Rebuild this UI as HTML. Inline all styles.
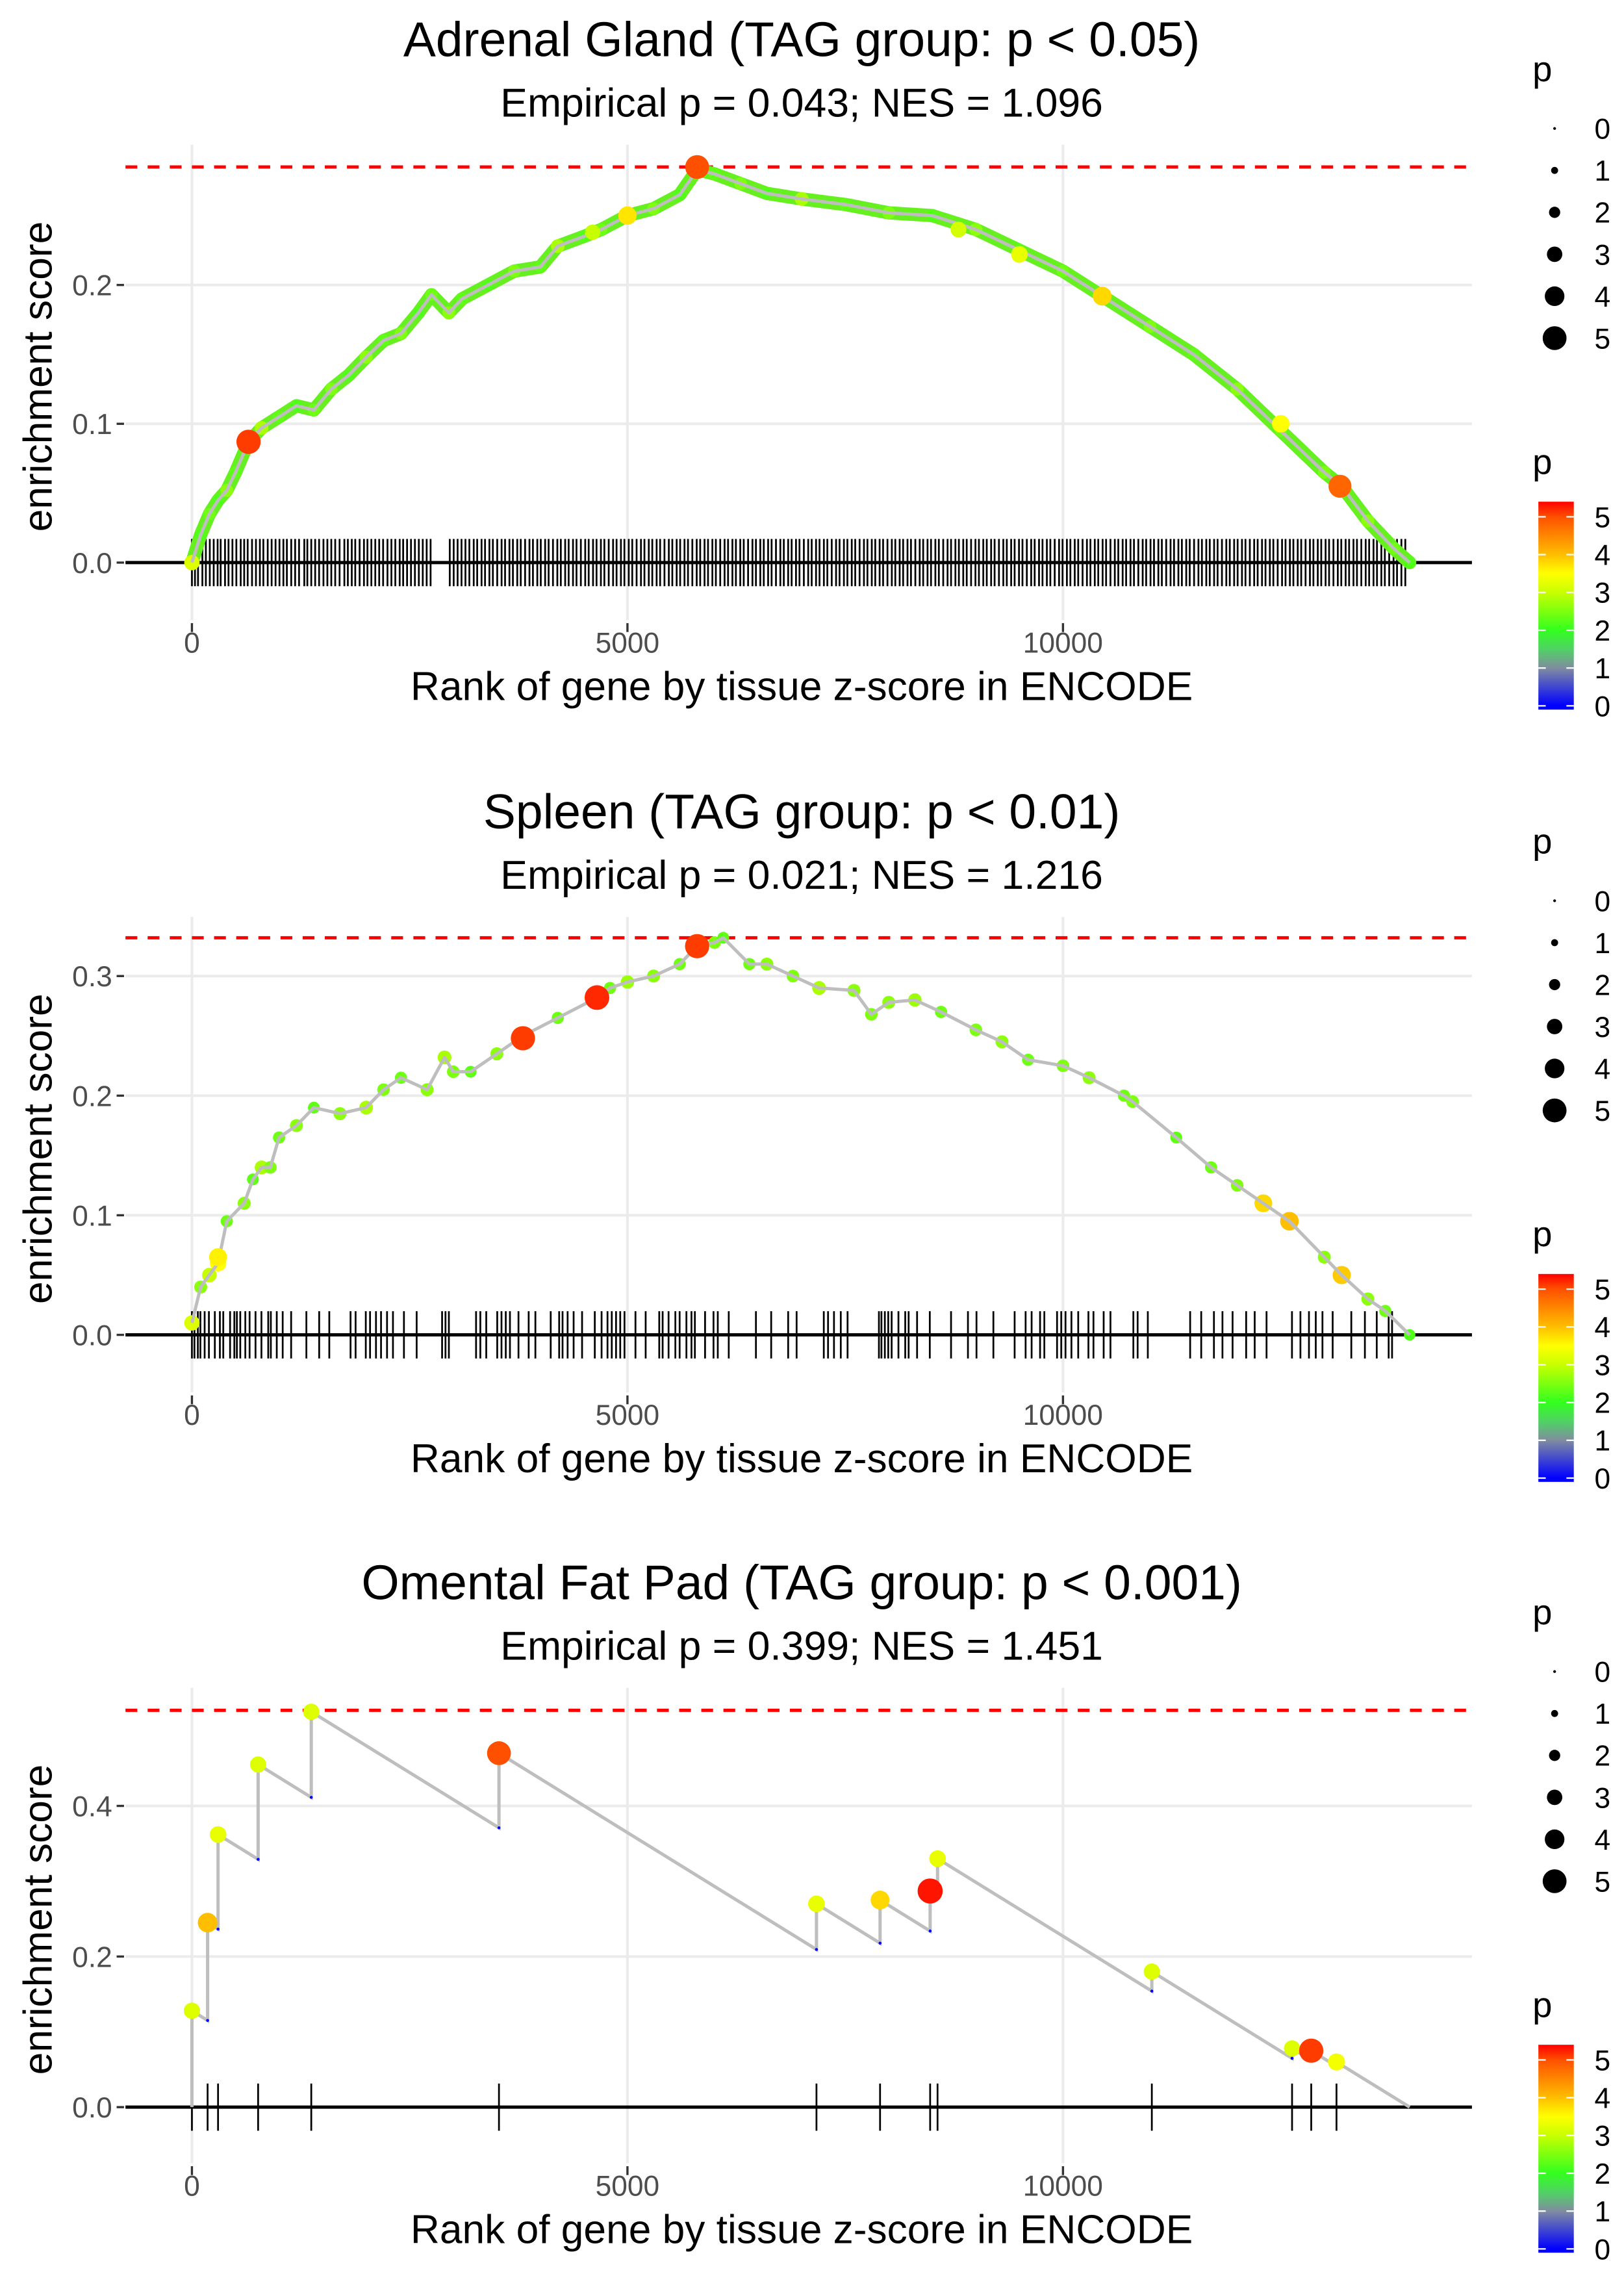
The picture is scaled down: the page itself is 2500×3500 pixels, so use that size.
<!DOCTYPE html>
<html><head><meta charset="utf-8"><style>
html,body{margin:0;padding:0;background:#fff;}
svg{display:block;}
text{font-family:"Liberation Sans",Arial,sans-serif;}
</style></head><body>
<svg id="chart" width="2500" height="3500" viewBox="0 0 1100 1540" xmlns="http://www.w3.org/2000/svg"></svg>
<script>
// ---------- Panel 1: Adrenal Gland ----------
const p1Title = "Adrenal Gland (TAG group: p < 0.05)";
const p1Sub = "Empirical p = 0.043; NES = 1.096";
const p1YTicks = [0, 0.1, 0.2];
const p1MaxES = 0.285;
const p1CurveRank = [0,100,200,300,400,500,650,800,1000,1200,1400,1600,1800,2000,2200,2400,2600,2750,2950,3100,3400,3700,4000,4200,4500,4700,5000,5300,5600,5800,6000,6300,6600,7000,7500,8000,8500,9000,9500,10000,10500,11000,11500,12000,12500,13000,13200,13500,13800,13980];
const p1CurveES = [0,0.02,0.035,0.045,0.052,0.065,0.087,0.097,0.105,0.113,0.11,0.125,0.135,0.148,0.16,0.165,0.18,0.193,0.18,0.19,0.2,0.21,0.213,0.228,0.235,0.24,0.25,0.255,0.265,0.283,0.28,0.273,0.266,0.262,0.258,0.252,0.25,0.24,0.225,0.21,0.19,0.17,0.15,0.125,0.095,0.065,0.055,0.03,0.01,0];
const p1CurveP = [3.2,2.2,2.4,2.2,2.6,2.3,2.5,2.8,2.3,2.2,2.4,2.5,2.2,2.6,2.3,2.5,2.2,2.4,2.6,2.3,2.2,2.5,2.3,2.8,2.2,2.4,2.3,2.5,2.2,2.4,2.3,2.5,2.2,2.8,2.3,2.5,2.2,2.6,2.3,2.4,2.2,2.5,2.3,2.6,2.4,2.5,2.3,2.6,2.4,2.2];
const p1HlRank = [650,5800,13180,5000,10450,9500,12500,8800,4600];
const p1HlES = [0.087,0.285,0.055,0.25,0.192,0.222,0.1,0.24,0.238];
const p1HlP = [5.1,5.0,4.8,3.7,3.8,3.3,3.5,3.1,3.0];
const p1Hits = [0,35,70,120,160,205,250,295,330,380,420,465,510,560,600,640,690,735,780,820,870,915,960,1005,1050,1090,1140,1185,1230,1290,1325,1370,1415,1460,1510,1555,1600,1645,1695,1750,1790,1835,1875,1925,1975,2015,2060,2105,2150,2195,2245,2290,2335,2385,2425,2470,2515,2560,2605,2650,2695,2740,
2960,3005,3050,3095,3140,3185,3235,3275,3325,3365,3415,3455,3505,3555,3595,3645,3685,3735,3775,3825,3875,3915,3965,4005,4055,4095,4145,4195,4235,4285,4325,4375,4415,4465,4515,4555,4605,4645,4695,4735,4785,4835,4875,4925,4965,5015,5055,5105,5155,5195,5245,5285,5335,5375,5425,5475,5515,5565,5605,5655,5695,5745,5795,5835,5885,5925,5975,6015,6065,6115,6155,6205,6245,6295,6335,6385,6435,6475,6525,6565,6615,6655,6705,6755,6795,6845,6885,6935,6975,7025,7075,7115,7165,7205,7255,7295,7345,7395,7435,7485,7525,7575,7615,7665,7715,7755,7805,7845,7895,7935,7985,8035,8075,8125,8165,8215,8255,8305,8355,8395,8445,8485,8535,8575,8625,8675,8715,8765,8805,8855,8895,8945,8995,9035,9085,9125,9175,9215,9265,9315,9355,9405,9445,9495,9535,9585,9635,9675,9725,9765,9815,9855,9905,9955,9995,10045,10085,10135,10175,10225,10275,10315,10365,10405,10455,10495,10545,10595,10635,10685,10725,10775,10815,10865,10915,10955,11005,11045,11095,11135,11185,11235,11275,11325,11365,11415,11455,11505,11555,11595,11645,11685,11735,11775,11825,11875,11915,11965,12005,12055,12095,12145,12195,12235,12285,12325,12375,12415,12465,12515,12555,12605,12645,12695,12735,12785,12835,12875,12925,12965,13015,13055,13105,13155,13195,13245,13285,13335,13375,13425,13475,13515,13565,13605,13655,13695,13745,13795,13835,13885,13930];

// ---------- Panel 2: Spleen ----------
const p2Title = "Spleen (TAG group: p < 0.01)";
const p2Sub = "Empirical p = 0.021; NES = 1.216";
const p2YTicks = [0, 0.1, 0.2, 0.3];
const p2MaxES = 0.332;
const p2CurveRank = [0,100,200,300,400,600,700,800,900,1000,1200,1400,1700,2000,2200,2400,2700,2900,3000,3200,3500,3800,4200,4600,4800,5000,5300,5600,5800,6000,6100,6400,6600,6900,7200,7600,7800,8000,8300,8600,9000,9300,9600,10000,10300,10700,10800,11300,11700,12000,12300,12600,13000,13200,13500,13700,13980];
const p2CurveES = [0.01,0.04,0.05,0.06,0.095,0.11,0.13,0.14,0.14,0.165,0.175,0.19,0.185,0.19,0.205,0.215,0.205,0.232,0.22,0.22,0.235,0.25,0.265,0.28,0.29,0.295,0.3,0.31,0.325,0.328,0.332,0.31,0.31,0.3,0.29,0.288,0.268,0.278,0.28,0.27,0.255,0.245,0.23,0.225,0.215,0.2,0.195,0.165,0.14,0.125,0.11,0.095,0.065,0.05,0.03,0.02,0];
const p2CurveP = [3.2,2.6,3.0,3.5,2.4,2.6,2.3,2.8,2.5,2.4,2.6,2.3,2.6,2.8,2.5,2.4,2.6,2.8,2.5,2.3,2.6,2.5,2.4,2.6,2.4,2.7,2.6,2.4,2.6,2.5,2.3,2.4,2.6,2.5,2.8,2.6,2.5,2.6,2.7,2.4,2.5,2.6,2.4,2.5,2.6,2.4,2.5,2.3,2.4,2.5,3.8,4.0,2.6,3.9,2.6,2.4,2.2];
const p2HlRank = [3800,4650,5800,300];
const p2HlES = [0.248,0.282,0.325,0.065];
const p2HlP = [5.1,5.2,5.1,3.6];
const p2Hits = [0,29,68,97,146,195,263,321,360,438,487,516,555,613,662,730,798,876,906,974,1042,1139,1314,1461,1577,1821,1879,1996,2045,2113,2171,2240,2308,2434,2580,2872,2911,2950,3262,3311,3379,3505,3554,3603,3651,3749,3866,3943,4119,4216,4255,4313,4382,4479,4625,4703,4771,4820,4869,4917,4966,5092,5209,5365,5404,5472,5550,5599,5677,5735,5774,5891,5988,6037,6163,6475,6650,6845,6942,7254,7303,7371,7449,7527,7887,7916,7955,7994,8033,8111,8189,8228,8325,8471,8715,8909,9007,9201,9445,9571,9640,9737,9786,9932,9980,10029,10097,10175,10292,10350,10467,10545,10808,10857,10974,11460,11587,11733,11831,11947,12103,12201,12337,12629,12726,12824,12902,12979,13096,13310,13466,13602,13739,13778];

// ---------- Panel 3: Omental Fat Pad ----------
const p3Title = "Omental Fat Pad (TAG group: p < 0.001)";
const p3Sub = "Empirical p = 0.399; NES = 1.451";
const p3YTicks = [0, 0.2, 0.4];
const p3MaxES = 0.527;
const p3Hits = [0,180,300,760,1370,3525,7170,7900,8475,8560,11020,12630,12850,13140];
const p3ESAfter = [0.128,0.245,0.362,0.455,0.525,0.47,0.27,0.275,0.287,0.33,0.18,0.078,0.075,0.06];
const p3P = [3.2,4.0,3.3,3.2,3.2,5.0,3.3,3.8,5.3,3.3,3.2,3.2,5.1,3.4];
const p3Slope = 7.15e-5;

const N = 13980;
const legendSizes = [0,1,2,3,4,5];
const colorTicks = [0,1,2,3,4,5];

const svg = document.getElementById('chart');
const NS = 'http://www.w3.org/2000/svg';
function mk(tag, attrs, parent){
  const e = document.createElementNS(NS, tag);
  for (const k in attrs) e.setAttribute(k, attrs[k]);
  (parent||svg).appendChild(e);
  return e;
}
const stops = [[0,[0,0,255]],[1,[128,140,160]],[1.5,[80,210,100]],[2,[50,255,30]],[3,[200,255,0]],[3.5,[255,255,0]],[4,[255,190,0]],[5,[255,80,0]],[5.4,[255,0,0]]];
function pcol(p){
  if (p<=stops[0][0]) return 'rgb(0,0,255)';
  for (let i=1;i<stops.length;i++){
    if (p<=stops[i][0]){
      const a=stops[i-1], b=stops[i], t=(p-a[0])/(b[0]-a[0]);
      const c=a[1].map((v,j)=>Math.round(v+(b[1][j]-v)*t));
      return 'rgb('+c.join(',')+')';
    }
  }
  return 'rgb(255,0,0)';
}
function rad(p){ return 1+1.5*p; }
const xs = r => 130 + r*0.059;
const X0 = 85, X1 = 997;

function panel(off, cfg){
  const g = mk('g', {transform:'translate(0,'+off+')'});
  
  
  const ys = v => cfg.y0 - v*cfg.k;
  const t = mk('text',{x:543,y:38,'text-anchor':'middle','font-size':33,fill:'#000'},g);
  t.textContent = cfg.title;
  
  
  const s = mk('text',{x:543,y:79,'text-anchor':'middle','font-size':27.5,fill:'#000'},g);
  s.textContent = cfg.sub;
  
  
  [0,5000,10000].forEach(r=>{
    const l = mk('line',{x1:xs(r),x2:xs(r),y1:98,y2:420,stroke:'#ebebeb','stroke-width':1.8},g);
    
    
  });
  cfg.yticks.forEach(v=>{
    const l = mk('line',{x1:X0,x2:X1,y1:ys(v),y2:ys(v),stroke:'#ebebeb','stroke-width':1.8},g);
    
    
    const tk = mk('line',{x1:79,x2:84,y1:ys(v),y2:ys(v),stroke:'#333','stroke-width':1.5},g);
    
    
    const tl = mk('text',{x:76,y:ys(v)+7,'text-anchor':'end','font-size':19.5,fill:'#4d4d4d'},g);
    tl.textContent = v.toFixed(1);
    
    
  });
  [0,5000,10000].forEach(r=>{
    const tk = mk('line',{x1:xs(r),x2:xs(r),y1:422,y2:428,stroke:'#333','stroke-width':1.5},g);
    
    
    const tl = mk('text',{x:xs(r),y:442,'text-anchor':'middle','font-size':19.5,fill:'#4d4d4d'},g);
    tl.textContent = String(r);
    
    
  });
  const xt = mk('text',{x:543,y:474,'text-anchor':'middle','font-size':27.4,fill:'#000'},g);
  xt.textContent = 'Rank of gene by tissue z-score in ENCODE';
  
  
  const yt = mk('text',{x:0,y:0,'text-anchor':'middle','font-size':27.4,fill:'#000',transform:'translate(35,255) rotate(-90)'},g);
  yt.textContent = 'enrichment score';
  
  
  const md = mk('line',{x1:X0,x2:X1,y1:ys(cfg.maxES),y2:ys(cfg.maxES),stroke:'#ff0000','stroke-width':2.2,'stroke-dasharray':'8,7'},g);
  
  
  cfg.hits.forEach(r=>{
    const l = mk('line',{x1:xs(r),x2:xs(r),y1:ys(0)-16,y2:ys(0)+16,stroke:'#000','stroke-width':cfg.rugW},g);
    
    
  });
  const bl = mk('line',{x1:X0,x2:X1,y1:ys(0),y2:ys(0),stroke:'#000','stroke-width':2.2},g);
  
  
  cfg.draw(g, ys);
  const lp = mk('text',{x:1038,y:55,'font-size':24,fill:'#000'},g);
  lp.textContent = 'p';
  
  
  legendSizes.forEach((v,i)=>{
    const y = 87 + i*28.4;
    const c = mk('circle',{cx:1053,cy:y,r:rad(v)*0.95,fill:'#000'},g);
    
    
    const tl = mk('text',{x:1080,y:y+7,'font-size':19.5,fill:'#000'},g);
    tl.textContent = String(v);
    
    
  });
  const cp = mk('text',{x:1038,y:321,'font-size':24,fill:'#000'},g);
  cp.textContent = 'p';
  
  
  const gid = 'grad'+off;
  const defs = mk('defs',{},g);
  const lg = mk('linearGradient',{id:gid,x1:0,y1:1,x2:0,y2:0},defs);
  stops.forEach(st=>{
    mk('stop',{offset:((st[0]+0.1)/5.5),'stop-color':'rgb('+st[1].join(',')+')'},lg);
  });
  const cby = v => 478 - v*25.6;
  const cb = mk('rect',{x:1042,y:cby(5.4),width:24,height:cby(-0.1)-cby(5.4),fill:'url(#'+gid+')'},g);
  
  
  colorTicks.forEach(v=>{
    mk('line',{x1:1042,x2:1047,y1:cby(v),y2:cby(v),stroke:'#fff','stroke-width':1},g);
    mk('line',{x1:1061,x2:1066,y1:cby(v),y2:cby(v),stroke:'#fff','stroke-width':1},g);
    const tl = mk('text',{x:1080,y:cby(v)+7,'font-size':19.5,fill:'#000'},g);
    tl.textContent = String(v);
    
    
  });
}

function curveDraw(rank, es, pv, hr, he, hp, cloud){
  return function(g, ys){
    const pts = rank.map((r,i)=>xs(r)+','+ys(es[i])).join(' ');
    if (cloud){
      const c = mk('polyline',{points:pts,fill:'none',stroke:'#66f020','stroke-width':9,'stroke-linejoin':'round','stroke-linecap':'round'},g);
      
      
    }
    rank.forEach((r,i)=>{
      const c = mk('circle',{cx:xs(r),cy:ys(es[i]),r:rad(pv[i])*0.9,fill:pcol(pv[i])},g);
      
      
    });
    const l = mk('polyline',{points:pts,fill:'none',stroke:'#bebebe','stroke-width':2.2,'stroke-linejoin':'round'},g);
    
    
    hr.forEach((r,i)=>{
      const c = mk('circle',{cx:xs(r),cy:ys(he[i]),r:rad(hp[i])*0.95,fill:pcol(hp[i])},g);
      
      
    });
  };
}

panel(0, {name:'panel-adrenal-gland', title:p1Title, sub:p1Sub, y0:381, k:940, yticks:p1YTicks, maxES:p1MaxES, hits:p1Hits, rugW:1.2,
  draw: curveDraw(p1CurveRank,p1CurveES,p1CurveP,p1HlRank,p1HlES,p1HlP,true)});
panel(523, {name:'panel-spleen', title:p2Title, sub:p2Sub, y0:381, k:810, yticks:p2YTicks, maxES:p2MaxES, hits:p2Hits, rugW:1.2,
  draw: curveDraw(p2CurveRank,p2CurveES,p2CurveP,p2HlRank,p2HlES,p2HlP,false)});
panel(1045, {name:'panel-omental-fat-pad', title:p3Title, sub:p3Sub, y0:382, k:510, yticks:p3YTicks, maxES:p3MaxES, hits:p3Hits, rugW:1.2,
  draw: function(g, ys){
    const path = [];
    const before = [];
    let prevR = 0, prevE = 0;
    p3Hits.forEach((r,i)=>{
      const b = i===0 ? 0 : Math.max(0, prevE - p3Slope*(r-prevR));
      before.push(b);
      path.push(xs(r)+','+ys(b));
      path.push(xs(r)+','+ys(p3ESAfter[i]));
      prevR = r; prevE = p3ESAfter[i];
    });
    path.push(xs(N)+','+ys(0));
    const l = mk('polyline',{points:path.join(' '),fill:'none',stroke:'#bebebe','stroke-width':2.2},g);
    
    
    p3Hits.forEach((r,i)=>{
      if (i===0) return;
      const d = mk('circle',{cx:xs(r),cy:ys(before[i]),r:1,fill:'#0000ff'},g);
      
      
    });
    p3Hits.forEach((r,i)=>{
      const c = mk('circle',{cx:xs(r),cy:ys(p3ESAfter[i]),r:rad(p3P[i])*0.95,fill:pcol(p3P[i])},g);
      
      
    });
  }});
</script>
</body></html>
